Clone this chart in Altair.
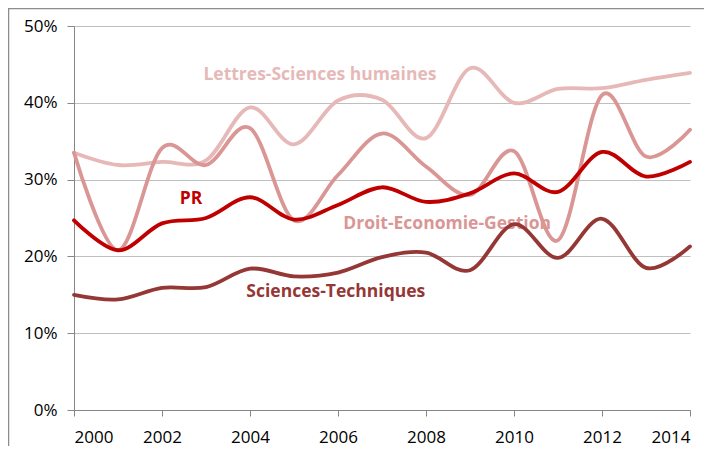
import altair as alt
import pandas as pd

years = list(range(2000, 2015))
lettres = [33.5, 31.9, 32.3, 32.5, 39.4, 34.6, 40.3, 40.4, 35.4, 44.5, 40.0, 41.8, 41.9, 43.0, 43.9]
droit = [33.5, 20.8, 34.1, 31.9, 36.7, 24.7, 30.6, 36.0, 31.7, 28.0, 33.7, 22.1, 41.0, 33.0, 36.5]
pr = [24.7, 20.8, 24.3, 25.0, 27.7, 24.8, 26.7, 29.0, 27.1, 28.2, 30.8, 28.4, 33.6, 30.4, 32.3]
sciences = [15.0, 14.4, 15.9, 16.0, 18.4, 17.4, 17.9, 19.9, 20.5, 18.2, 24.2, 19.8, 24.9, 18.5, 21.3]

series_names = ["Lettres-Sciences humaines", "Droit-Economie-Gestion", "Sciences-Techniques", "PR"]
series_values = [lettres, droit, sciences, pr]
series_colors = ["#E6B9B8", "#D99694", "#953735", "#C00000"]

label_text = ["Lettres-Sciences humaines", "Droit-Economie-Gestion", "Sciences-Techniques", "PR"]
label_x = [2005.59, 2008.48, 2005.95, 2002.66]
label_y = [43.6, 24.2, 15.4, 27.5]

FONT = "Open Sans"

x_enc = alt.X("year:Q",
              scale=alt.Scale(domain=[2000, 2014], nice=False, zero=False),
              axis=alt.Axis(values=list(range(2000, 2015, 2)), format="d", grid=False,
                            tickSize=6, tickColor="#868686", domainColor="#868686",
                            labelPadding=13, labelFontSize=17, labelFont=FONT,
                            labelColor="black", title=None))
y_enc = alt.Y("v:Q",
              scale=alt.Scale(domain=[0, 0.5], nice=False),
              axis=alt.Axis(values=[0, 0.1, 0.2, 0.3, 0.4, 0.5], format=".0%", grid=True,
                            gridColor="#BFBFBF", gridWidth=1.2,
                            tickSize=7, tickColor="#868686", domainColor="#868686",
                            labelPadding=10, labelFontSize=17, labelFont=FONT,
                            labelColor="black", title=None))

layers = []

labels_df = pd.DataFrame({
    "year": label_x,
    "v": [v / 100 for v in label_y],
    "t": label_text,
    "c": [series_colors[series_names.index(t)] for t in label_text],
})
layers.append(
    alt.Chart(labels_df).mark_text(font=FONT, fontWeight="bold", fontSize=17.5,
                                   align="center", baseline="middle").encode(
        x=x_enc, y=y_enc, text="t:N", color=alt.Color("c:N", scale=None))
)

for name, vals, col in zip(series_names, series_values, series_colors):
    df = pd.DataFrame({"year": years, "v": [v / 100 for v in vals]})
    layers.append(
        alt.Chart(df).mark_line(interpolate="cardinal", tension=0, strokeWidth=3.8,
                                color=col, strokeCap="round").encode(x=x_enc, y=y_enc)
    )

border = alt.Chart(pd.DataFrame({"a": [0]})).mark_rect(
    filled=False, stroke="#8C8C8C", strokeWidth=1.5).encode(
    x=alt.value(-65.5), x2=alt.value(700), y=alt.value(-17.5), y2=alt.value(500))

chart = alt.layer(border, *layers).properties(
    width=616, height=384,
    padding={"left": 66, "top": 18, "right": 14, "bottom": 36},
    autosize=alt.AutoSizeParams(type="none"),
).configure_view(stroke=None)

chart.save("out.html", embed_options={"renderer": "svg", "actions": False})
